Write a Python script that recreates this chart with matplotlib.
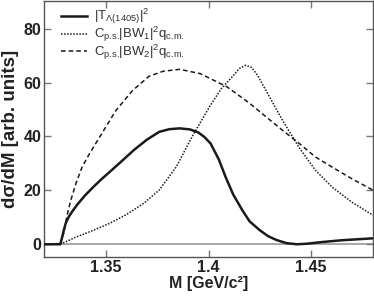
import matplotlib
matplotlib.use("Agg")
import matplotlib.pyplot as plt

# Data
m_T = [1.320, 1.3278, 1.3283, 1.3288, 1.3296, 1.3305, 1.332, 1.334, 1.336, 1.340, 1.344,
       1.348, 1.352, 1.358, 1.3636, 1.370, 1.376, 1.381, 1.386, 1.391, 1.395, 1.398,
       1.401, 1.405, 1.4083, 1.412, 1.4164, 1.420, 1.4248, 1.429, 1.433, 1.438, 1.443,
       1.448, 1.455, 1.465, 1.480]
y_T = [0.0, 0.0, 1.2, 2.8, 5.3, 7.8, 10.2, 12.5, 14.6, 18.2, 21.3,
       24.2, 26.9, 31.0, 34.9, 38.8, 41.7, 42.7, 43.0, 42.6, 41.5, 39.8,
       37.4, 31.5, 25.0, 18.5, 12.7, 8.5, 5.3, 3.0, 1.6, 0.4, 0.0,
       0.2, 0.8, 1.5, 2.2]

m_BW1 = [1.3278, 1.336, 1.344, 1.352, 1.360, 1.3685, 1.376, 1.3843, 1.392, 1.4005, 1.406,
         1.412, 1.415, 1.418, 1.421, 1.424, 1.428, 1.432, 1.436, 1.444, 1.452, 1.460,
         1.470, 1.480]
y_BW1 = [0.0, 2.8, 5.2, 7.8, 11.0, 15.2, 20.1, 28.7, 39.9, 51.0, 57.5,
         62.5, 65.2, 66.4, 65.6, 62.5, 57.0, 51.5, 46.0, 36.0, 27.5, 21.3,
         15.5, 10.8]

m_BW2 = [1.3278, 1.3285, 1.3296, 1.331, 1.333, 1.3355, 1.3385, 1.342, 1.346, 1.350, 1.355,
         1.363, 1.371, 1.378, 1.386, 1.396, 1.409, 1.420, 1.436, 1.444, 1.452, 1.460,
         1.470, 1.480]
y_BW2 = [0.0, 2.0, 4.2, 10.2, 16.4, 22.6, 28.7, 33.5, 38.5, 43.5, 49.7,
         57.0, 62.3, 64.2, 64.9, 63.3, 58.4, 52.3, 42.3, 37.5, 32.4, 28.7,
         24.2, 20.1]

labels = [r'|T$_\text{Λ(1405)}$|$^2$',
          r'C$_\text{p.s.}$|BW$_1$|$^2$q$_\text{c.m.}$',
          r'C$_\text{p.s.}$|BW$_2$|$^2$q$_\text{c.m.}$']

xticks = [1.35, 1.40, 1.45]
xticklabels = ['1.35', '1.4', '1.45']
yticks = [0, 20, 40, 60, 80]

plt.rcParams['font.family'] = ['Liberation Sans', 'DejaVu Sans']
plt.rcParams['mathtext.fontset'] = 'custom'
plt.rcParams['mathtext.rm'] = 'Liberation Sans'
plt.rcParams['mathtext.it'] = 'Liberation Sans'
plt.rcParams['mathtext.bf'] = 'Liberation Sans:bold'
plt.rcParams['mathtext.default'] = 'regular'

fig = plt.figure(figsize=(3.74, 2.96), dpi=100)
ax = fig.add_axes([0.118, 0.132, 0.879, 0.866])

ax.axhline(0, color='#999999', lw=1.2, zorder=1)
ax.plot(m_T, y_T, color='#1a1a1a', lw=1.8, ls='-', label=labels[0], zorder=3)
ax.plot(m_BW1, y_BW1, color='#1a1a1a', lw=1.1, ls=(0, (1, 1)), label=labels[1], zorder=3)
ax.plot(m_BW2, y_BW2, color='#1a1a1a', lw=1.1, ls=(0, (3, 2)), label=labels[2], zorder=3)

ax.set_xlim(1.320, 1.480)
ax.set_ylim(-4.7, 90.4)
ax.set_xticks(xticks)
ax.set_xticklabels(xticklabels)
ax.set_yticks(yticks)
ax.tick_params(direction='in', top=True, right=True, length=5, width=1,
               color='#777777', labelsize=11.5, pad=2)
for lab in ax.get_xticklabels() + ax.get_yticklabels():
    lab.set_fontweight('bold')
    lab.set_color('#222222')
for s in ax.spines.values():
    s.set_color('#555555')
    s.set_linewidth(1.0)

ax.set_xlabel('M [GeV/c²]', fontsize=11.5, fontweight='bold', labelpad=1, color='#222222')
ax.set_ylabel('dσ/dM [arb. units]', fontsize=13.5, fontweight='bold', labelpad=3, color='#222222')

leg = ax.legend(loc='upper left', frameon=False, fontsize=9.5, handlelength=2.0,
                handletextpad=0.5, labelspacing=-0.1, borderaxespad=0.0,
                bbox_to_anchor=(0.035, 0.995))
for t in leg.get_texts():
    t.set_color('#333333')

fig.savefig('out.png', dpi=100)
